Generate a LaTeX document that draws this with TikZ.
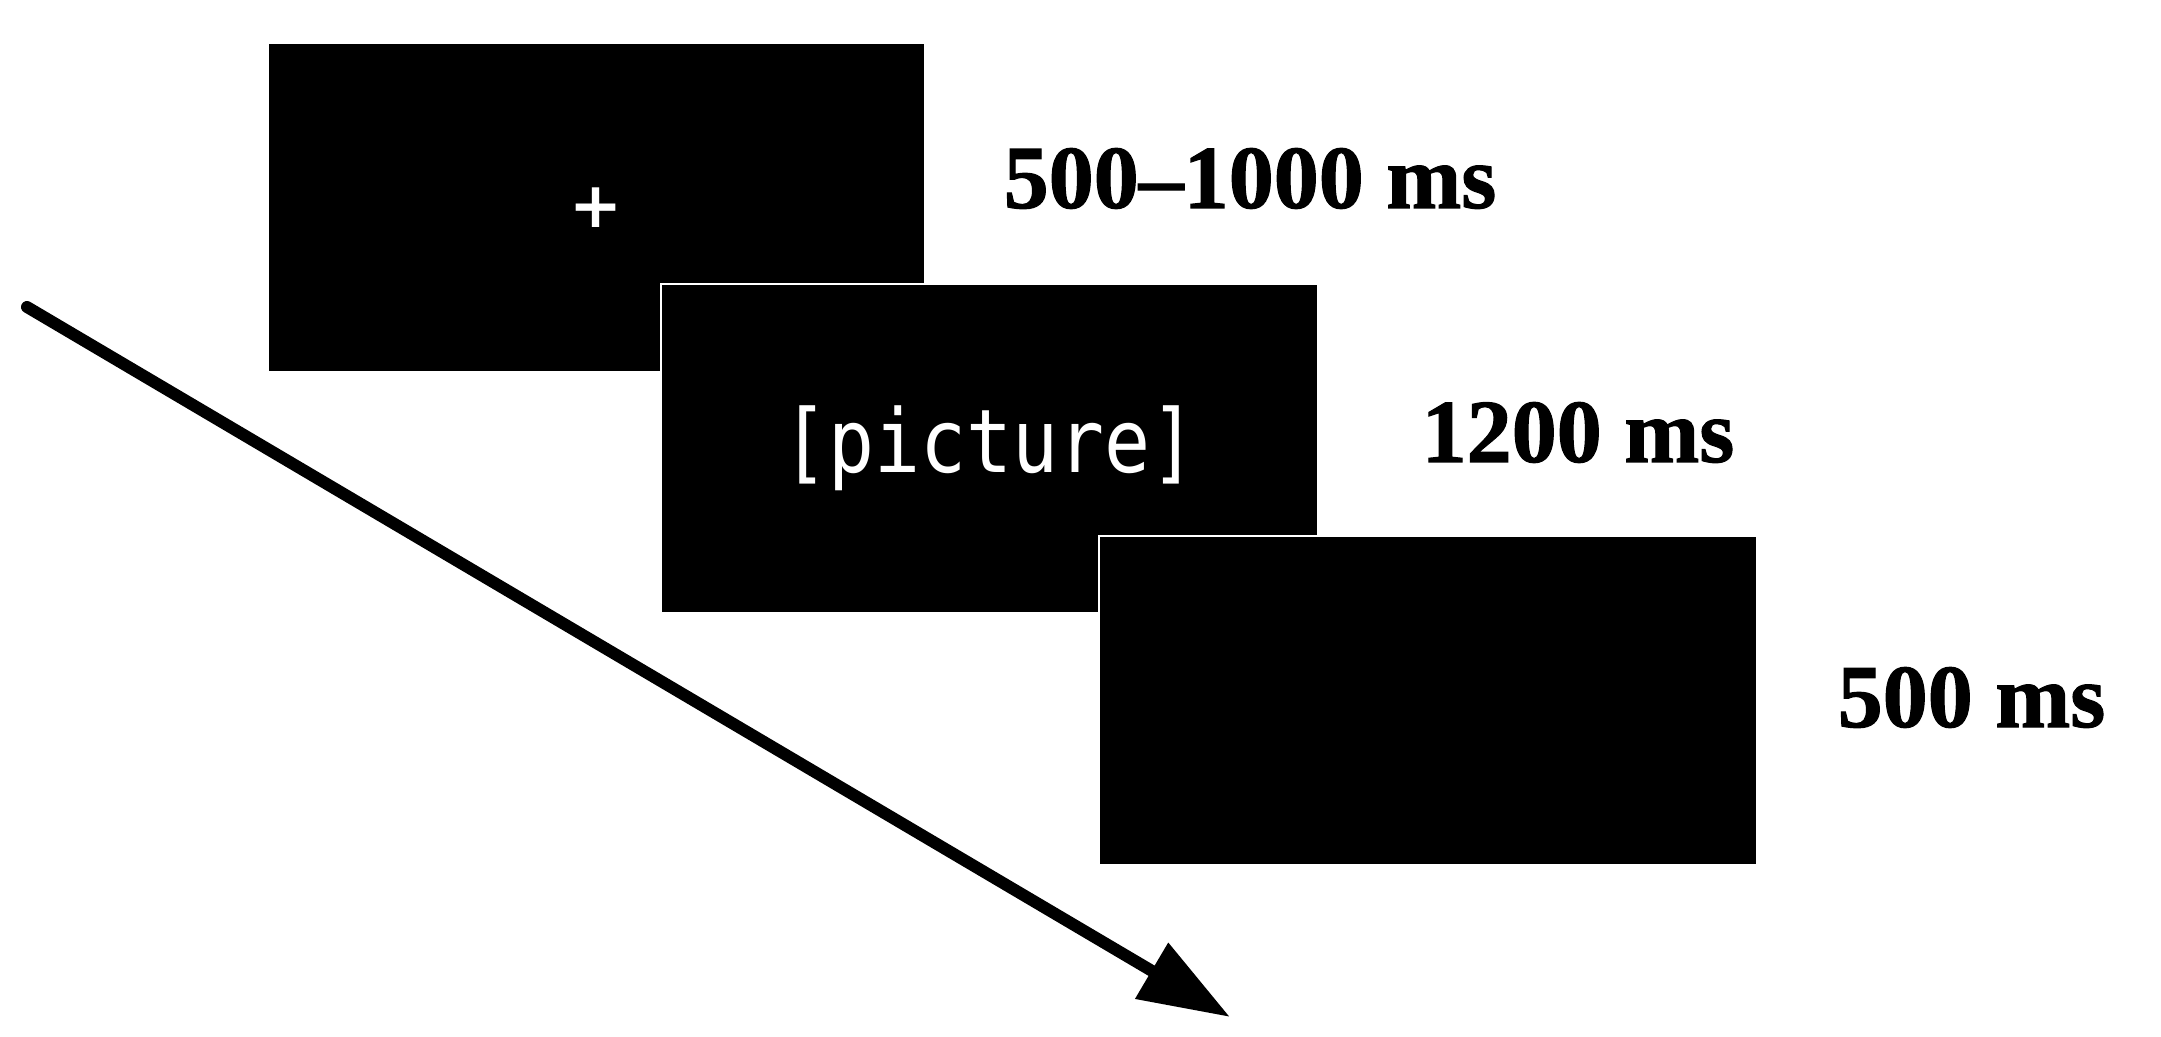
\documentclass[tikz,border=0pt]{standalone}
\usepackage{fontspec}
\setmainfont{Liberation Serif}[BoldFeatures={FakeBold=1.2}]
\newfontfamily\picfont[FakeStretch=0.87]{DejaVu Sans Mono}
\newfontfamily\crossfont{DejaVu Sans}
\usetikzlibrary{arrows.meta,positioning}

\begin{document}
\begin{tikzpicture}[x=0.01cm, y=-0.01cm,
    screen/.style={draw=white, line width=0.6pt, fill=black, text=white,
                   minimum width=6.57cm, minimum height=3.28cm, inner sep=0pt},
    timing/.style={anchor=base west, inner sep=0pt,
                   font=\fontsize{25.6}{30}\selectfont\bfseries}]
            \useasboundingbox (0,0) rectangle (2161,1037);

            % Screen 1 - fixation
            \node[screen, font=\crossfont\bfseries\fontsize{18}{20}\selectfont] (fix) at (596.5,207.5) {+};
            \node[timing] (fixtime) at (1003,208) {500--1000 ms};

            % Screen 2 - picture
            \node[screen, font=\picfont\fontsize{25}{30}\selectfont] (pic) at (989.5,448.5) {[picture]};
            \node[timing] (pictime) at (1421,462) {1200 ms};

            % Screen 3 - blank
            \node[screen] (blank) at (1428,700.5) {};
            \node[timing] (blanktime) at (1837,727) {500 ms};

            % Time arrow
            \coordinate (tstart) at (27,307);
            \coordinate (tend) at (1230,1017);
            \draw[-{Triangle[length=0.91cm,width=0.62cm]}, line width=3.4pt, line cap=round] (tstart) -- (tend);
        \end{tikzpicture}
\end{document}
